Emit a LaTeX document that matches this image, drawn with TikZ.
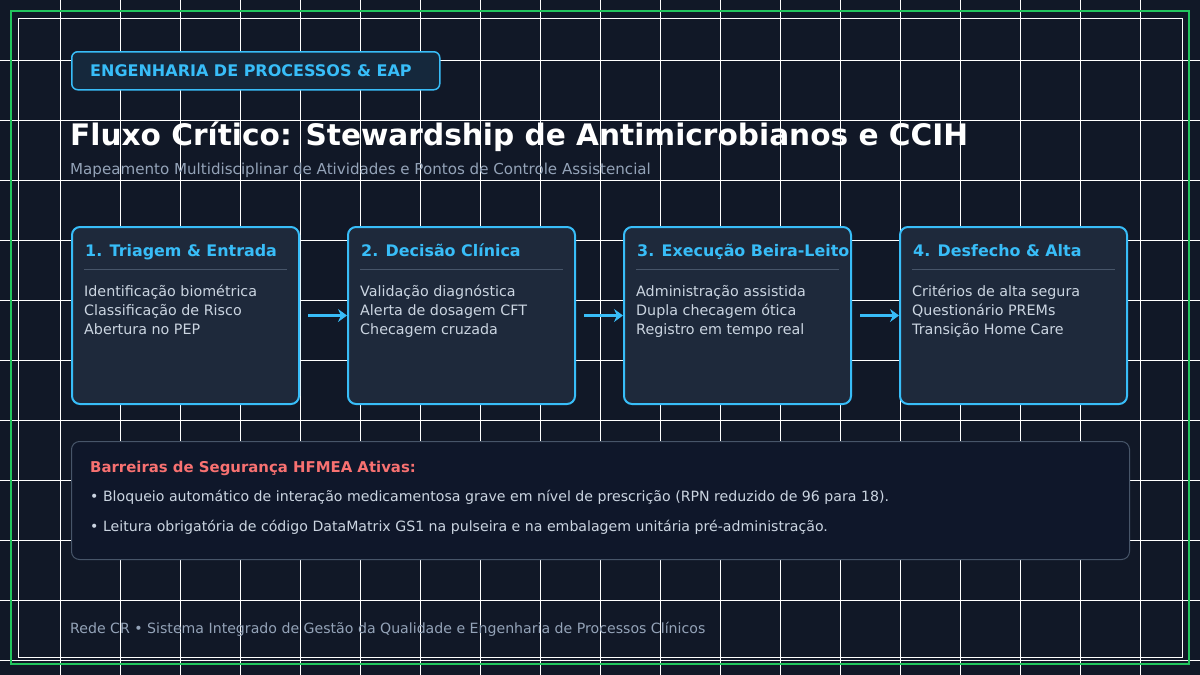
\documentclass[tikz,border=0pt]{standalone}
\usepackage{fontspec}
\setmainfont{DejaVu Sans}
\usetikzlibrary{positioning,arrows.meta}
\definecolor{bgnavy}{HTML}{111827}
\definecolor{framegreen}{HTML}{22C55E}
\definecolor{skyline}{HTML}{38BDF8}
\definecolor{tagfill}{HTML}{15283C}
\definecolor{stepfill}{HTML}{1E293B}
\definecolor{rulegrey}{HTML}{475569}
\definecolor{bodygrey}{HTML}{CBD5E1}
\definecolor{mutedgrey}{HTML}{94A3B8}
\definecolor{barrierfill}{HTML}{0F172A}
\definecolor{alertred}{HTML}{F87171}
\begin{document}
\begin{tikzpicture}[x=1pt, y=-1pt,
  stepbox/.style={draw=skyline, line width=2pt, fill=stepfill, rounded corners=8pt,
    minimum width=227pt, minimum height=177pt, inner sep=0pt},
  steptitle/.style={anchor=base west, inner sep=0pt, text=skyline,
    font=\fontsize{15.9}{19}\selectfont\bfseries},
  stepbody/.style={anchor=base west, inner sep=0pt, align=left, text=bodygrey,
    font=\fontsize{14.3}{19}\selectfont},
  flow/.style={draw=skyline, line width=3pt, -{Stealth[length=9pt, width=13pt]}},
  gridline/.style={draw=white, line width=1pt}]
  \fill [bgnavy] (0,0) rectangle (1200,675);
  \useasboundingbox (0,0) rectangle (1200,675);
  \foreach \gx in {60,120,...,1140} \draw [gridline] (\gx,0) -- (\gx,675);
  \foreach \gy in {60,120,...,660} \draw [gridline] (0,\gy) -- (1200,\gy);
  \draw [framegreen, line width=2.5pt] (11,11) rectangle (1189,664);
  \draw [white, line width=1pt] (18,18) rectangle (1182,657);

  \node (tag) [draw=skyline, line width=1.5pt, fill=tagfill, rounded corners=6pt,
    minimum width=368pt, minimum height=38pt, anchor=north west] at (71,51) {};
  \node (tagtext) [anchor=west, inner sep=0pt, text=skyline, font=\fontsize{16}{19}\selectfont\bfseries]
    at ([xshift=19pt]tag.west) {ENGENHARIA DE PROCESSOS \& EAP};
  \node (heading) [anchor=base west, inner sep=0pt, text=white, font=\fontsize{29.6}{36}\selectfont\bfseries]
    at (70,145) {Fluxo Crítico: Stewardship de Antimicrobianos e CCIH};
  \node (subheading) [anchor=base west, inner sep=0pt, text=mutedgrey, font=\fontsize{15.1}{18}\selectfont]
    at (70,174) {Mapeamento Multidisciplinar de Atividades e Pontos de Controle Assistencial};

  \node (step1) [stepbox, anchor=north west] at (71,226) {};
  \node (step2) [stepbox, right=47pt of step1] {};
  \node (step3) [stepbox, right=47pt of step2] {};
  \node (step4) [stepbox, right=47pt of step3] {};
  \foreach \i/\head/\lines in {
      1/{1. Triagem \& Entrada}/{Identificação biométrica\\Classificação de Risco\\Abertura no PEP},
      2/{2. Decisão Clínica}/{Validação diagnóstica\\Alerta de dosagem CFT\\Checagem cruzada},
      3/{3. Execução Beira-Leito}/{Administração assistida\\Dupla checagem ótica\\Registro em tempo real},
      4/{4. Desfecho \& Alta}/{Critérios de alta segura\\Questionário PREMs\\Transição Home Care}}{
    \node (title\i) [steptitle] at ([xshift=14pt, yshift=-30pt]step\i.north west) {\head};
    \draw [rulegrey, line width=1pt] ([xshift=13pt, yshift=-43pt]step\i.north west)
      -- ([xshift=-13pt, yshift=-43pt]step\i.north east);
    \node (body\i) [stepbody] at ([xshift=13pt, yshift=-108pt]step\i.north west) {\lines};
  }
  \foreach \i/\j in {1/2, 2/3, 3/4}
    \draw [flow] ([xshift=8pt]step\i.east) -- (step\j.west);

  \node (barrier) [draw=rulegrey, line width=1pt, fill=barrierfill, rounded corners=8pt,
    minimum width=1058pt, minimum height=118pt, anchor=north west] at (71,441) {};
  \node (barriertitle) [anchor=base west, inner sep=0pt, text=alertred, font=\fontsize{14.9}{18}\selectfont\bfseries]
    at ([xshift=19pt, yshift=-31pt]barrier.north west) {Barreiras de Segurança HFMEA Ativas:};
  \node (barrier1) [anchor=base west, inner sep=0pt, text=bodygrey, font=\fontsize{14.14}{17}\selectfont]
    at ([xshift=19pt, yshift=-60pt]barrier.north west)
    {• Bloqueio automático de interação medicamentosa grave em nível de prescrição (RPN reduzido de 96 para 18).};
  \node (barrier2) [anchor=base west, inner sep=0pt, text=bodygrey, font=\fontsize{14.14}{17}\selectfont]
    at ([xshift=19pt, yshift=-90pt]barrier.north west)
    {• Leitura obrigatória de código DataMatrix GS1 na pulseira e na embalagem unitária pré-administração.};

  \node (footer) [anchor=base west, inner sep=0pt, text=mutedgrey, font=\fontsize{14.13}{17}\selectfont]
    at (70,633) {Rede CR • Sistema Integrado de Gestão da Qualidade e Engenharia de Processos Clínicos};
\end{tikzpicture}
\end{document}
